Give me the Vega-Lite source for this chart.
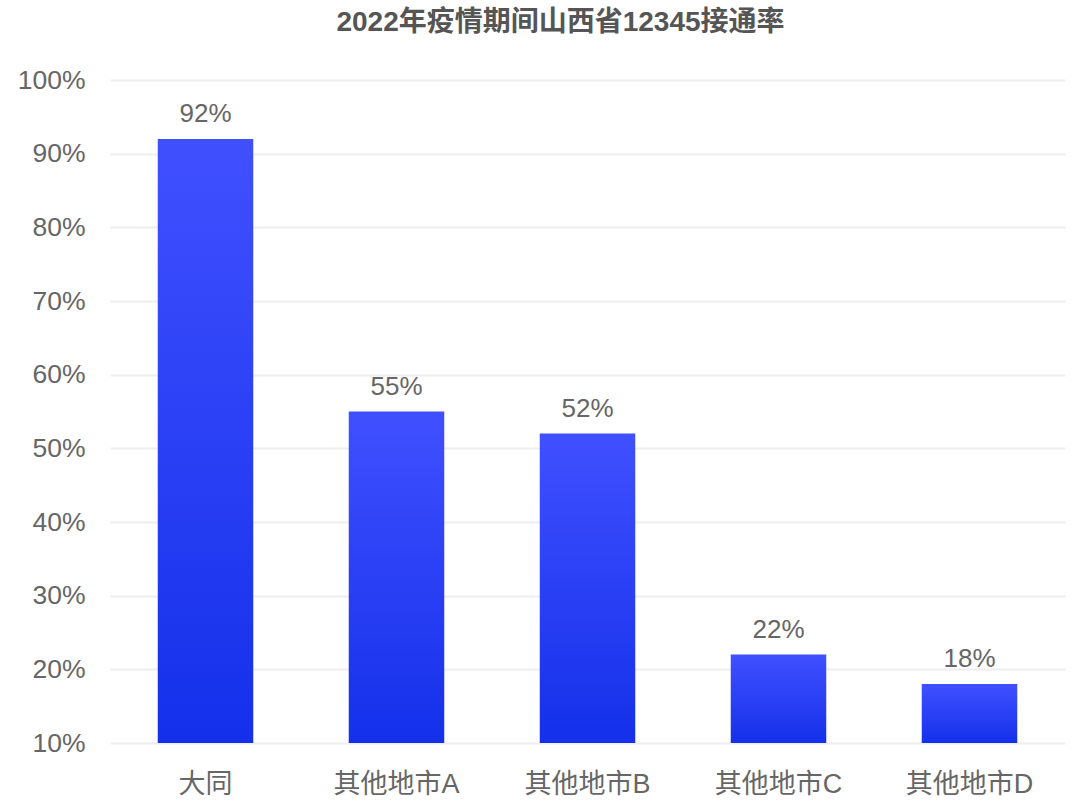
{
  "$schema": "https://vega.github.io/schema/vega-lite/v6.json",
  "autosize": {"type": "none"},
  "padding": {"left": 110, "top": 80, "right": 15, "bottom": 67},
  "width": 955,
  "height": 663,
  "background": "#ffffff",
  "title": {
    "text": "2022年疫情期间山西省12345接通率",
    "font": "Liberation Sans, Noto Sans CJK SC",
    "fontSize": 28,
    "fontWeight": "bold",
    "color": "#555555",
    "anchor": "middle",
    "dx": -27,
    "offset": 30
  },
  "data": {
    "values": [
      {"city": "大同", "rate": 92, "label": "92%"},
      {"city": "其他地市A", "rate": 55, "label": "55%"},
      {"city": "其他地市B", "rate": 52, "label": "52%"},
      {"city": "其他地市C", "rate": 22, "label": "22%"},
      {"city": "其他地市D", "rate": 18, "label": "18%"}
    ]
  },
  "encoding": {
    "x": {
      "field": "city",
      "type": "nominal",
      "sort": null,
      "scale": {"paddingInner": 0.5, "paddingOuter": 0.25},
      "axis": {
        "title": null,
        "labelAngle": 0,
        "domain": false,
        "ticks": false,
        "labelFont": "Liberation Sans, Noto Sans CJK SC",
        "labelFontSize": 27,
        "labelColor": "#666666",
        "labelPadding": 28
      }
    },
    "y": {
      "field": "rate",
      "type": "quantitative",
      "scale": {"domain": [10, 100], "nice": false, "zero": false},
      "axis": {
        "title": null,
        "values": [10, 20, 30, 40, 50, 60, 70, 80, 90, 100],
        "labelExpr": "datum.value + '%'",
        "domain": false,
        "ticks": false,
        "grid": true,
        "gridColor": "#eeeeee",
        "gridWidth": 2,
        "labelFont": "Liberation Sans",
        "labelFontSize": 26.5,
        "labelColor": "#666666",
        "labelPadding": 25
      }
    }
  },
  "layer": [
    {
      "mark": {
        "type": "bar",
        "color": {
          "gradient": "linear",
          "x1": 0, "y1": 0, "x2": 0, "y2": 1,
          "stops": [
            {"offset": 0, "color": "#4050ff"},
            {"offset": 1, "color": "#1430ea"}
          ]
        }
      },
      "encoding": {"y2": {"datum": 10}}
    },
    {
      "mark": {
        "type": "text",
        "baseline": "bottom",
        "dy": -12,
        "font": "Liberation Sans",
        "fontSize": 26,
        "color": "#666666"
      },
      "encoding": {"text": {"field": "label", "type": "nominal"}}
    }
  ],
  "config": {"view": {"stroke": null}}
}
